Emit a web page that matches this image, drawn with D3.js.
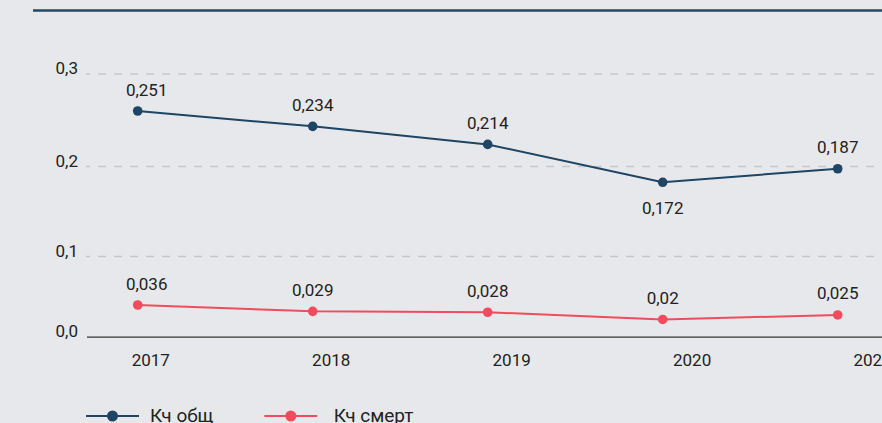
<!DOCTYPE html>
<html>
<head>
<meta charset="utf-8">
<script src="https://cdn.jsdelivr.net/npm/d3@7"></script>
<style>
  html, body { margin: 0; padding: 0; background: #e7e8ec; }
  svg { display: block; }
  text { font-family: Roboto, "Noto Sans", sans-serif; fill: #222; }
</style>
</head>
<body>
<svg id="chart" width="882" height="423"></svg>
<script>
// Coefficient values by year
const years = ["2017", "2018", "2019", "2020", "2021"];
const kTotal = [0.251, 0.234, 0.214, 0.172, 0.187];
const kDeath = [0.036, 0.029, 0.028, 0.02, 0.025];
const yTicks = [0, 0.1, 0.2, 0.3];
const seriesNames = ["Кч общ", "Кч смерт"];
const seriesColors = ["#1e4563", "#f04c5d"];

const svg = d3.select("#chart");
const FONT = "Roboto, sans-serif";

// scales
const x = d3.scalePoint().domain(years).range([137.7, 837.7]);
const xLabel = d3.scalePoint().domain(years).range([150.3, 872]);
const y = d3.scaleLinear().domain([0, 0.3]).range([337.5, 66.8]);
const yGrid = d3.scaleLinear().domain(yTicks).range([336.7, 256, 166, 73.5]);

const fmt = v => String(v).replace(".", ",");

// top rule
svg.append("line")
  .attr("x1", 33).attr("x2", 882).attr("y1", 10.5).attr("y2", 10.5)
  .attr("stroke", "#27475f").attr("stroke-width", 2.5);

// y axis with dashed grid
const yAxis = svg.append("g")
  .attr("transform", "translate(86,0)")
  .call(d3.axisLeft(yGrid).tickValues(yTicks).tickSize(-796).tickFormat(d3.format(".1f")));
yAxis.select(".domain").remove();
yAxis.selectAll(".tick line")
  .attr("stroke", d => d === 0 ? "#333" : "#c6c7ca")
  .attr("stroke-width", d => d === 0 ? 1.2 : 1.3)
  .attr("stroke-dasharray", d => d === 0 ? null : "8,8")
  .attr("stroke-dashoffset", 4)
  .attr("x1", d => d === 0 ? 1 : 0);
yAxis.selectAll(".tick text")
  .text(d => d3.format(".1f")(d).replace(".", ","))
  .attr("x", -8).attr("dy", 0)
  .attr("font-size", 17).attr("fill", "#222")
  .style("font-family", FONT);

// x axis labels
const xAxis = svg.append("g")
  .attr("transform", "translate(0,366)")
  .call(d3.axisBottom(xLabel).tickSize(0));
xAxis.select(".domain").remove();
xAxis.selectAll(".tick text")
  .attr("y", 0).attr("dy", 0)
  .attr("font-size", 17).attr("fill", "#222")
  .style("font-family", FONT);

// series
const series = [kTotal, kDeath];
const line = d3.line().x((d, i) => x(years[i])).y(d => y(d));

series.forEach((vals, s) => {
  const g = svg.append("g");
  g.append("path")
    .datum(vals)
    .attr("d", line)
    .attr("fill", "none")
    .attr("stroke", seriesColors[s])
    .attr("stroke-width", 2);
  g.selectAll("circle")
    .data(vals)
    .join("circle")
    .attr("cx", (d, i) => x(years[i]))
    .attr("cy", d => y(d))
    .attr("r", 4.8)
    .attr("fill", seriesColors[s]);
  g.selectAll("text")
    .data(vals)
    .join("text")
    .attr("text-anchor", "middle")
    .attr("font-size", 17)
    .attr("x", (d, i) => x(years[i]) + (i === 0 ? 9 : 0))
    .attr("y", (d, i) => {
      const localMin = s === 0 && i > 0 && i < vals.length - 1 && d < vals[i - 1] && d < vals[i + 1];
      return localMin ? y(d) + 32 : y(d) - 15.5;
    })
    .text(d => fmt(d));
});

// legend
const legend = svg.append("g").attr("transform", "translate(86,416)");
seriesNames.forEach((name, s) => {
  const item = legend.append("g").attr("transform", `translate(${s * 178.3},0)`);
  item.append("line").attr("x1", 0).attr("x2", 53).attr("y1", 0).attr("y2", 0)
    .attr("stroke", seriesColors[s]).attr("stroke-width", 2);
  item.append("circle").attr("cx", 26.5).attr("cy", 0).attr("r", 5.5).attr("fill", seriesColors[s]);
  item.append("text").attr("x", 64 + s * 5.5).attr("y", 5.5).attr("font-size", 19).text(name);
});
</script>
</body>
</html>
